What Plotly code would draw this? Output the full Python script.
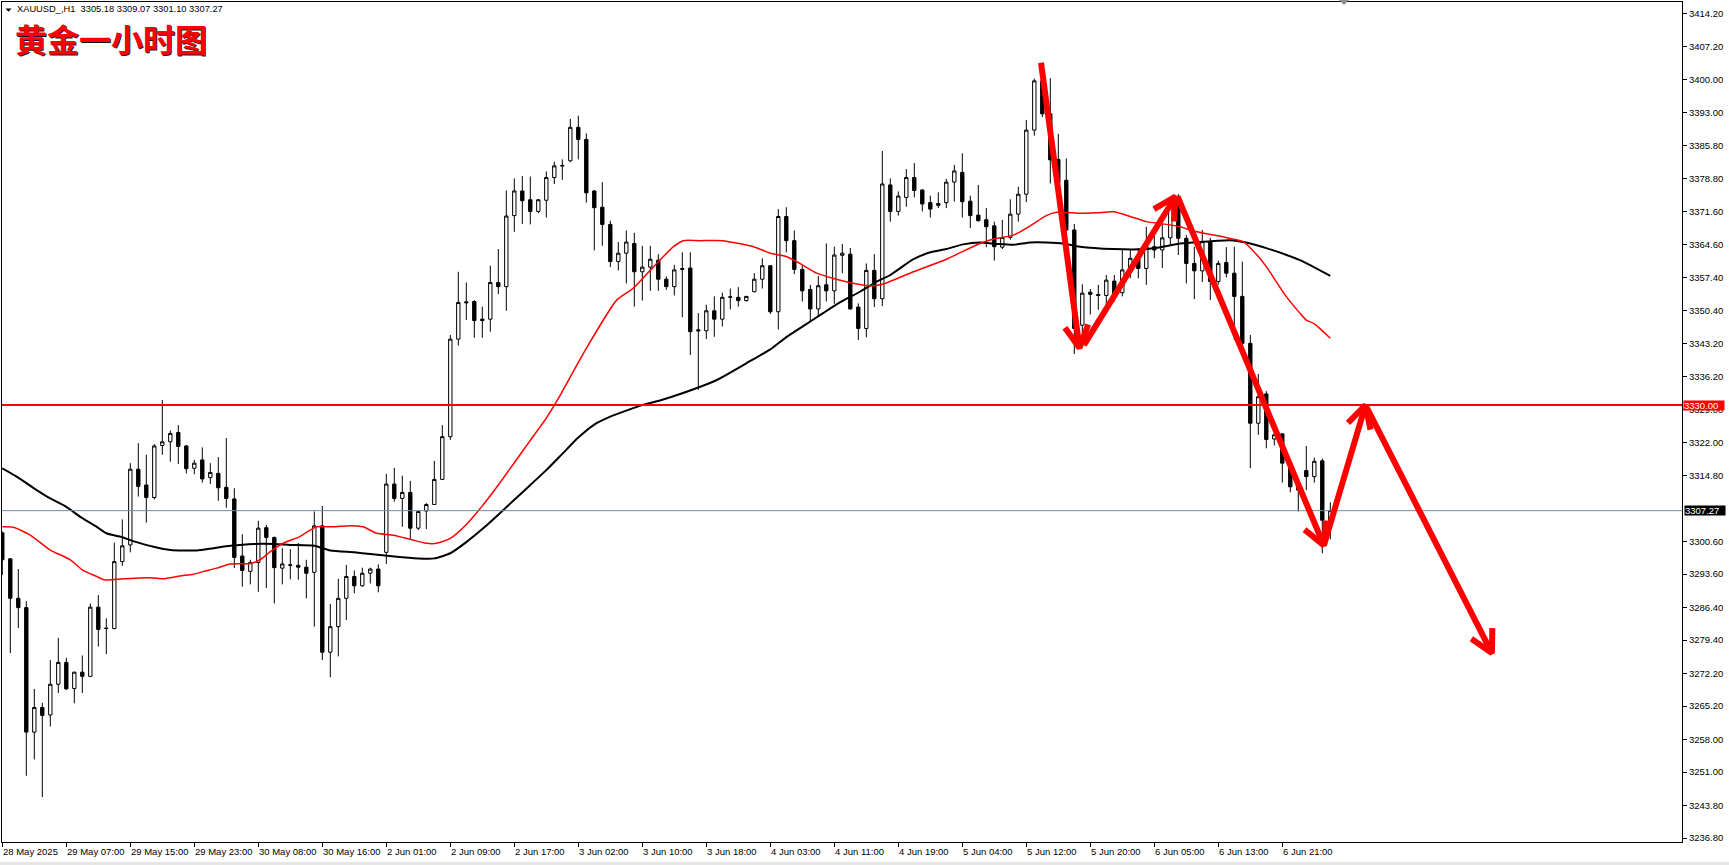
import math
import plotly.graph_objects as go

# ---------------- data ----------------
opens = [
    3302.5, 3296.9, 3288.4, 3286.4, 3259.6, 3264.9, 3263.3, 3269.9, 3274.6, 3269.0,
    3272.5, 3271.6, 3286.5, 3282.0, 3281.9, 3296.3, 3299.9, 3316.2, 3312.8, 3310.1,
    3321.3, 3322.1, 3324.1, 3321.2, 3316.4, 3318.2, 3314.4, 3315.3, 3312.3, 3309.8,
    3297.5, 3294.2, 3296.1, 3303.6, 3301.5, 3294.9, 3295.5, 3295.5, 3295.1, 3294.0,
    3304.0, 3276.8, 3282.3, 3288.4, 3293.1, 3291.1, 3293.8, 3294.7, 3298.3, 3313.0,
    3309.9, 3311.2, 3303.5, 3307.2, 3308.6, 3314.0, 3323.2, 3344.2, 3352.0, 3352.3,
    3348.5, 3348.5, 3356.4, 3355.5, 3370.8, 3376.1, 3374.2, 3371.7, 3374.1, 3379.0,
    3381.6, 3382.6, 3389.8, 3387.2, 3376.1, 3372.6, 3368.9, 3360.9, 3362.7, 3364.8,
    3358.7, 3359.7, 3361.2, 3357.1, 3355.5, 3359.2, 3359.5, 3346.2, 3346.0, 3350.3,
    3348.5, 3353.2, 3353.2, 3352.5, 3354.4, 3357.1, 3360.0, 3350.1, 3370.6, 3365.4,
    3359.2, 3354.9, 3350.7, 3355.9, 3354.6, 3362.25, 3362.5, 3351.1, 3346.5, 3359.0,
    3352.9, 3377.4, 3371.7, 3374.7, 3379.0, 3376.3, 3373.6, 3373.0, 3373.6, 3378.0,
    3380.1, 3373.9, 3370.9, 3369.9, 3368.6, 3364.0, 3366.1, 3371.1, 3375.4, 3389.2,
    3399.8, 3392.7, 3382.9, 3378.4, 3367.7, 3347.2, 3354.3, 3353.8, 3353.6, 3356.7,
    3354.2, 3359.1, 3361.6, 3359.4, 3364.1, 3363.4, 3366.0, 3373.4, 3365.9, 3360.5,
    3358.9, 3365.2, 3356.6, 3360.7, 3358.4, 3353.4, 3343.3, 3326.1, 3332.4, 3322.7,
    3323.8, 3317.5, 3312.4, 3315.9, 3314.6, 3318.0, 3305.18]

highs = [
    3302.8, 3297.0, 3294.7, 3287.8, 3268.9, 3265.9, 3275.1, 3279.9, 3275.6, 3272.6,
    3276.1, 3287.3, 3289.1, 3284.1, 3300.4, 3305.4, 3317.5, 3321.8, 3319.3, 3321.6,
    3331.1, 3324.5, 3325.7, 3321.4, 3318.2, 3320.9, 3317.5, 3318.8, 3322.9, 3312.1,
    3302.2, 3296.7, 3305.1, 3304.2, 3301.7, 3299.2, 3299.0, 3300.3, 3296.7, 3307.1,
    3308.3, 3287.2, 3292.6, 3295.6, 3294.4, 3295.0, 3295.0, 3295.7, 3315.2, 3316.5,
    3314.8, 3313.7, 3307.2, 3308.9, 3318.0, 3325.7, 3345.1, 3358.7, 3356.4, 3352.6,
    3351.2, 3360.0, 3363.6, 3376.2, 3378.8, 3379.3, 3379.2, 3374.4, 3380.3, 3382.4,
    3382.9, 3391.6, 3392.3, 3388.5, 3376.3, 3378.0, 3369.7, 3365.1, 3367.6, 3367.1,
    3364.3, 3364.3, 3362.5, 3357.7, 3360.2, 3362.9, 3362.9, 3349.8, 3351.6, 3353.4,
    3354.2, 3355.1, 3355.4, 3353.5, 3358.4, 3361.6, 3360.1, 3372.2, 3372.6, 3367.6,
    3360.0, 3355.9, 3357.8, 3364.8, 3364.1, 3364.7, 3363.8, 3351.9, 3360.5, 3362.5,
    3384.7, 3378.8, 3376.0, 3380.8, 3382.1, 3376.5, 3375.1, 3375.8, 3378.7, 3381.7,
    3384.2, 3375.1, 3377.4, 3372.4, 3369.5, 3369.9, 3374.3, 3377.0, 3391.4, 3400.3,
    3400.4, 3400.4, 3388.4, 3383.1, 3369.0, 3356.0, 3355.0, 3355.9, 3358.0, 3358.0,
    3363.4, 3363.4, 3363.8, 3368.4, 3367.0, 3369.1, 3374.5, 3375.45, 3366.6, 3364.1,
    3367.7, 3366.0, 3361.1, 3364.0, 3364.1, 3360.9, 3345.1, 3336.7, 3333.0, 3324.0,
    3324.0, 3318.0, 3313.0, 3321.2, 3318.7, 3318.5, 3309.07]

lows = [
    3293.4, 3276.6, 3282.0, 3250.2, 3253.7, 3245.6, 3260.8, 3268.0, 3268.7, 3265.8,
    3268.0, 3271.6, 3278.0, 3276.4, 3281.7, 3295.4, 3298.3, 3310.3, 3304.7, 3309.7,
    3319.3, 3317.8, 3317.3, 3315.3, 3315.1, 3313.3, 3313.0, 3309.4, 3307.9, 3294.9,
    3290.9, 3291.4, 3289.8, 3290.6, 3287.3, 3291.4, 3292.5, 3292.4, 3288.4, 3282.3,
    3275.1, 3271.4, 3275.9, 3283.7, 3289.5, 3290.9, 3291.6, 3289.7, 3295.8, 3309.2,
    3303.8, 3301.1, 3303.1, 3303.3, 3308.5, 3313.9, 3322.5, 3342.8, 3348.3, 3344.5,
    3344.5, 3345.8, 3353.9, 3350.3, 3367.3, 3369.0, 3368.9, 3371.3, 3370.4, 3377.6,
    3378.5, 3382.3, 3382.9, 3373.6, 3363.3, 3364.3, 3359.7, 3359.0, 3356.2, 3351.2,
    3352.5, 3354.6, 3354.6, 3354.8, 3353.6, 3348.9, 3340.8, 3333.3, 3344.2, 3344.7,
    3346.9, 3350.6, 3351.2, 3352.3, 3354.3, 3355.1, 3349.6, 3346.3, 3362.9, 3358.2,
    3352.3, 3348.0, 3349.0, 3352.3, 3351.8, 3358.4, 3350.6, 3344.0, 3344.6, 3351.1,
    3351.3, 3369.5, 3370.8, 3372.7, 3374.7, 3371.7, 3370.4, 3372.4, 3372.4, 3373.8,
    3370.4, 3368.1, 3369.5, 3364.0, 3361.1, 3363.6, 3365.6, 3369.5, 3373.7, 3388.0,
    3392.0, 3377.7, 3372.7, 3364.5, 3341.0, 3345.0, 3349.5, 3350.5, 3350.5, 3352.3,
    3353.4, 3357.3, 3357.3, 3355.9, 3361.6, 3359.5, 3364.5, 3362.3, 3356.2, 3352.8,
    3356.5, 3352.6, 3355.9, 3357.5, 3344.0, 3342.5, 3316.4, 3323.6, 3320.7, 3321.3,
    3313.3, 3311.2, 3307.1, 3311.7, 3313.3, 3298.1, 3301.10]

closes = [
    3296.7, 3288.4, 3286.4, 3259.6, 3264.9, 3263.2, 3269.9, 3274.6, 3268.9, 3272.5,
    3271.6, 3286.5, 3281.7, 3281.9, 3296.3, 3299.7, 3316.2, 3312.5, 3310.1, 3321.2,
    3322.1, 3323.9, 3321.1, 3316.3, 3317.5, 3314.1, 3315.5, 3312.2, 3309.9, 3297.2,
    3294.4, 3296.1, 3303.5, 3301.5, 3295.0, 3295.8, 3295.6, 3295.1, 3293.8, 3304.0,
    3276.8, 3282.3, 3288.4, 3293.1, 3291.1, 3293.8, 3294.7, 3291.1, 3313.0, 3309.9,
    3311.2, 3303.5, 3307.1, 3308.6, 3314.0, 3323.2, 3344.2, 3352.1, 3352.2, 3348.2,
    3348.2, 3356.4, 3355.5, 3370.7, 3376.1, 3374.0, 3371.7, 3374.2, 3379.0, 3381.5,
    3381.5, 3389.8, 3387.2, 3375.7, 3372.5, 3368.9, 3360.9, 3362.7, 3365.1, 3358.7,
    3359.7, 3361.4, 3357.1, 3355.5, 3359.1, 3359.4, 3345.8, 3346.0, 3350.3, 3348.5,
    3353.2, 3353.3, 3352.5, 3353.4, 3357.1, 3360.0, 3350.1, 3370.6, 3365.4, 3359.2,
    3354.6, 3350.7, 3355.7, 3354.6, 3362.3, 3362.7, 3350.7, 3346.5, 3359.0, 3352.9,
    3377.6, 3371.7, 3375.0, 3379.0, 3376.2, 3373.3, 3372.2, 3373.4, 3378.0, 3380.4,
    3373.8, 3370.8, 3369.7, 3368.4, 3364.1, 3366.1, 3371.1, 3375.4, 3389.2, 3399.8,
    3392.7, 3382.8, 3377.9, 3367.7, 3346.5, 3354.1, 3353.85, 3353.6, 3356.9, 3353.8,
    3359.1, 3361.6, 3359.4, 3364.1, 3363.4, 3366.0, 3373.4, 3365.9, 3360.5, 3358.9,
    3365.2, 3356.6, 3360.5, 3358.4, 3353.4, 3343.3, 3326.1, 3331.8, 3322.6, 3323.6,
    3317.5, 3312.4, 3311.7, 3314.6, 3317.9, 3305.2, 3307.27]

bars = list(range(len(closes)))

# moving averages (bar index, price)
ma_fast_x = [0, 1.4, 3.5, 6.0, 8.5, 10.1, 11.8, 12.8, 15.1, 17.2,
             18.9, 20.1, 22.2, 23.9, 25.1, 26.8, 28.5, 31.0, 32.2, 33.5,
             35.1, 37.2, 38.5, 39.3, 41.4, 43.5, 45.1, 46.8, 48.9, 51.0,
             53.0, 54.3, 56.0, 58, 60, 62, 64, 66, 68, 69.4,
             73.0, 76.8, 78.9, 81.8, 83.9, 85.1, 87.2, 90.1, 91.4, 93.9,
             96.0, 98.0, 99.7, 101.8, 103.8, 105.9, 108.5, 110.0, 113.9, 118.0,
             122.2, 124.3, 126.4, 128.5, 130.5, 131.8, 134.7, 136.8, 138.9, 141.0,
             143.0, 145.1, 147.2, 149.3, 151.4, 153.4, 155.1, 157.0, 158.0, 160.5,
             162.2, 163.0, 164.0, 166.0]
ma_fast_y = [3303.8, 3303.7, 3302.0, 3298.8, 3296.7, 3294.4, 3293.1, 3292.35, 3292.6, 3292.8,
             3292.8, 3292.6, 3293.2, 3293.6, 3294.15, 3294.9, 3295.8, 3295.9, 3296.7, 3298.45,
             3300.25, 3301.7, 3303.1, 3303.8, 3303.8, 3304.05, 3303.8, 3302.4, 3302.0, 3301.1,
             3300.25, 3300.25, 3301.3, 3304.3, 3308.3, 3312.8, 3317.6, 3322.4, 3327.2, 3331.1,
             3342.2, 3352.6, 3355.2, 3360.5, 3364.1, 3365.4, 3365.4, 3365.4, 3365.0, 3364.1,
             3362.7, 3362.0, 3360.5, 3358.4, 3357.3, 3356.4, 3355.65, 3356.0, 3358.7, 3361.4,
             3364.8, 3365.9, 3366.6, 3368.6, 3370.8, 3371.5, 3371.3, 3371.4, 3371.6, 3370.6,
             3369.5, 3369.0, 3368.4, 3367.3, 3366.6, 3365.9, 3365.2, 3362.0, 3359.8, 3353.35,
             3349.8, 3348.3, 3347.5, 3344.4]

ma_slow_x = [0, 1.8, 4.3, 6.0, 8.0, 9.7, 11.8, 13.0, 14.7, 16.8,
             18.9, 21.0, 24.3, 26.4, 28.5, 31.4, 34.0, 36.0, 39.0, 41.0,
             44.0, 46.0, 49.0, 52.0, 54.0, 56.0, 58, 60, 62, 64,
             66, 68, 70, 72, 74, 76, 78, 80, 82.4, 87.0,
             89.3, 93.0, 96.0, 98.05, 100.55, 102.6, 104.7, 107.2, 109.3, 110.9,
             113.9, 116.0, 118.0, 120.1, 122.2, 124.3, 126.4, 128.5, 130.5, 132.6,
             134.7, 138.9, 143.0, 145.1, 147.2, 151.4, 153.4, 155.5, 158.0, 162.2,
             166.0]
ma_slow_y = [3316.4, 3314.6, 3311.7, 3309.9, 3308.1, 3306.0, 3303.8, 3302.4, 3301.7, 3300.5,
             3299.5, 3298.8, 3298.7, 3299.2, 3299.7, 3300.1, 3300.1, 3299.9, 3299.7, 3298.7,
             3298.3, 3297.95, 3297.4, 3297.0, 3297.0, 3298.1, 3300.5, 3303.3, 3306.4, 3309.6,
             3312.8, 3316.0, 3319.5, 3323.0, 3325.8, 3327.5, 3328.8, 3330.0, 3331.1, 3333.8,
             3335.4, 3339.0, 3342.0, 3344.7, 3347.5, 3349.8, 3352.1, 3354.4, 3356.6, 3357.9,
             3361.4, 3362.9, 3363.6, 3364.6, 3365.0, 3364.7, 3364.5, 3365.0, 3365.0, 3364.8,
             3364.1, 3363.6, 3363.6, 3364.1, 3364.8, 3365.3, 3365.5, 3365.0, 3363.8, 3361.2,
             3357.8]

level_line = 3330.00
last_price = 3307.27

price_ticks = [3414.20, 3407.20, 3400.00, 3393.00, 3385.80, 3378.80, 3371.60, 3364.60,
               3357.40, 3350.40, 3343.20, 3336.20, 3329.00, 3322.00, 3314.80, 3300.60,
               3293.60, 3286.40, 3279.40, 3272.20, 3265.20, 3258.00, 3251.00, 3243.80,
               3236.80]

time_tick_bars = [0, 8, 16, 24, 32, 40, 48, 56, 64, 72, 80, 88, 96, 104, 112, 120,
                  128, 136, 144, 152, 160]
time_tick_text = ["28 May 2025", "29 May 07:00", "29 May 15:00", "29 May 23:00",
                  "30 May 08:00", "30 May 16:00", "2 Jun 01:00", "2 Jun 09:00",
                  "2 Jun 17:00", "3 Jun 02:00", "3 Jun 10:00", "3 Jun 18:00",
                  "4 Jun 03:00", "4 Jun 11:00", "4 Jun 19:00", "5 Jun 04:00",
                  "5 Jun 12:00", "5 Jun 20:00", "6 Jun 05:00", "6 Jun 13:00",
                  "6 Jun 21:00"]

# hand-drawn forecast arrows: start (bar, price) -> tip (bar, price)
arrow_x0 = [129.84, 135.2, 146.9, 165.2, 170.4]
arrow_y0 = [3403.7, 3342.9, 3374.9, 3299.8, 3330.0]
arrow_x1 = [134.65, 146.65, 165.2, 170.4, 186.2]
arrow_y1 = [3342.3, 3374.9, 3299.8, 3330.0, 3276.6]

title_text = "黄金一小时图"
header_text = "XAUUSD_,H1  3305.18 3309.07 3301.10 3307.27"

# ---------------- layout geometry ----------------
W, H = 1729, 865
ML, MR, MT, MB = 2, 47, 2, 23
PW, PH = W - ML - MR, H - MT - MB
x_range = [-0.0375, -0.0375 + PW / 8.0]
y_range = [3235.94, 3416.78]
px_per_bar = PW / (x_range[1] - x_range[0])
px_per_price = PH / (y_range[1] - y_range[0])


def paper_x(px):
    return (px - ML) / PW


def paper_y(py):
    return 1 - (py - MT) / PH


FONT = "Liberation Sans, Arial, sans-serif"

fig = go.Figure()

fig.add_trace(go.Candlestick(
    x=bars, open=opens, high=highs, low=lows, close=closes,
    increasing=dict(line=dict(color="black", width=1), fillcolor="white"),
    decreasing=dict(line=dict(color="black", width=1), fillcolor="black"),
    whiskerwidth=0, showlegend=False, hoverinfo="skip"))

fig.add_trace(go.Scatter(x=ma_slow_x, y=ma_slow_y, mode="lines",
                         line=dict(color="black", width=2, shape="spline", smoothing=0.6),
                         showlegend=False, hoverinfo="skip"))
fig.add_trace(go.Scatter(x=ma_fast_x, y=ma_fast_y, mode="lines",
                         line=dict(color="#ff0000", width=1.5, shape="spline", smoothing=0.6),
                         showlegend=False, hoverinfo="skip"))

# horizontal lines across the whole plot
fig.add_trace(go.Scatter(x=[x_range[0] - 5, x_range[1] + 5], y=[last_price, last_price],
                         mode="lines", line=dict(color="#778899", width=1),
                         showlegend=False, hoverinfo="skip"))
fig.add_trace(go.Scatter(x=[x_range[0] - 5, x_range[1] + 5], y=[level_line, level_line],
                         mode="lines", line=dict(color="#ff0000", width=2),
                         showlegend=False, hoverinfo="skip"))

# arrows with V heads
HEAD_LEN, HEAD_ANG = 25.0, 28.0
for x0, y0, x1, y1 in zip(arrow_x0, arrow_y0, arrow_x1, arrow_y1):
    dx = (x1 - x0) * px_per_bar
    dy = -(y1 - y0) * px_per_price
    n = math.hypot(dx, dy)
    vx, vy = -dx / n, -dy / n
    arms = []
    for s in (1, -1):
        a = math.radians(HEAD_ANG * s)
        rx = vx * math.cos(a) - vy * math.sin(a)
        ry = vx * math.sin(a) + vy * math.cos(a)
        arms.append((x1 + rx * HEAD_LEN / px_per_bar, y1 - ry * HEAD_LEN / px_per_price))
    xs = [x0, x1, None, arms[0][0], x1, arms[1][0]]
    ys = [y0, y1, None, arms[0][1], y1, arms[1][1]]
    fig.add_trace(go.Scatter(x=xs, y=ys, mode="lines",
                             line=dict(color="#ff0000", width=6),
                             showlegend=False, hoverinfo="skip"))

annotations = []
# time labels, left-aligned just after each tick (MT4 style)
for b, t in zip(time_tick_bars, time_tick_text):
    annotations.append(dict(xref="x", yref="paper", x=b, y=paper_y(851), xanchor="left",
                            yanchor="middle", xshift=-1, text=t, showarrow=False,
                            font=dict(color="black", size=9.5, family=FONT)))
# price labels on the axis
annotations.append(dict(xref="paper", yref="y", x=1, y=level_line, xanchor="left",
                        yanchor="middle", xshift=1, text="3330.00", showarrow=False,
                        bgcolor="#ff0000", font=dict(color="white", size=9.5, family=FONT),
                        width=40, height=9, align="left", borderpad=0))
annotations.append(dict(xref="paper", yref="y", x=1, y=last_price, xanchor="left",
                        yanchor="middle", xshift=2, text="3307.27", showarrow=False,
                        bgcolor="black", font=dict(color="white", size=9.5, family=FONT),
                        width=40, height=9, align="left", borderpad=0))
# header
annotations.append(dict(xref="paper", yref="paper", x=paper_x(15), y=paper_y(9.5),
                        xanchor="left", yanchor="middle", text=header_text, showarrow=False,
                        font=dict(color="black", size=9.3, family=FONT)))
# title with shadow
annotations.append(dict(xref="paper", yref="paper", x=paper_x(111.5), y=paper_y(39),
                        xanchor="center", yanchor="middle", text="<b>" + title_text + "</b>",
                        showarrow=False,
                        font=dict(color="#1a1030", size=32, family="Noto Sans CJK SC")))
annotations.append(dict(xref="paper", yref="paper", x=paper_x(110.5), y=paper_y(38),
                        xanchor="center", yanchor="middle", text="<b>" + title_text + "</b>",
                        showarrow=False,
                        font=dict(color="#ff0000", size=32, family="Noto Sans CJK SC")))

shapes = [
    # small triangle before the header
    dict(type="path", xref="paper", yref="paper",
         path="M {} {} L {} {} L {} {} Z".format(paper_x(5.5), paper_y(8.5), paper_x(11.5),
                                                 paper_y(8.5), paper_x(8.5), paper_y(11.8)),
         fillcolor="black", line=dict(width=0)),
    # chart-shift marker at the top
    dict(type="path", xref="paper", yref="paper",
         path="M {} {} L {} {} L {} {} Z".format(paper_x(1339), paper_y(0), paper_x(1349),
                                                 paper_y(0), paper_x(1344), paper_y(5)),
         fillcolor="#8c8c8c", line=dict(width=0)),
    # light strip at the bottom of the window
    dict(type="rect", xref="paper", yref="paper", x0=paper_x(0), x1=paper_x(W),
         y0=paper_y(862), y1=paper_y(866), fillcolor="#e6e6e6", line=dict(width=0)),
]

fig.update_layout(
    width=W, height=H,
    margin=dict(l=ML, r=MR, t=MT, b=MB, autoexpand=False),
    paper_bgcolor="white", plot_bgcolor="white",
    showlegend=False, boxgap=0.4,
    annotations=annotations, shapes=shapes,
    xaxis=dict(range=x_range, tickmode="array", tickvals=time_tick_bars,
               ticks="outside", ticklen=4, tickcolor="black", tickwidth=1,
               showticklabels=False,
               showgrid=False, zeroline=False, showline=True, linecolor="black",
               linewidth=1, mirror=True, rangeslider=dict(visible=False), fixedrange=True),
    yaxis=dict(range=y_range, side="right", tickmode="array", tickvals=price_ticks,
               ticktext=["%.2f" % v for v in price_ticks], ticks="outside", ticklen=4,
               tickcolor="black", tickwidth=1,
               tickfont=dict(size=9.5, family=FONT, color="black"),
               showgrid=False, zeroline=False, showline=True, linecolor="black",
               linewidth=1, mirror=True, fixedrange=True),
)

fig.write_html("out.html", config={"displayModeBar": False},
               post_script="document.body.style.margin='0';document.body.style.overflow='hidden';")
